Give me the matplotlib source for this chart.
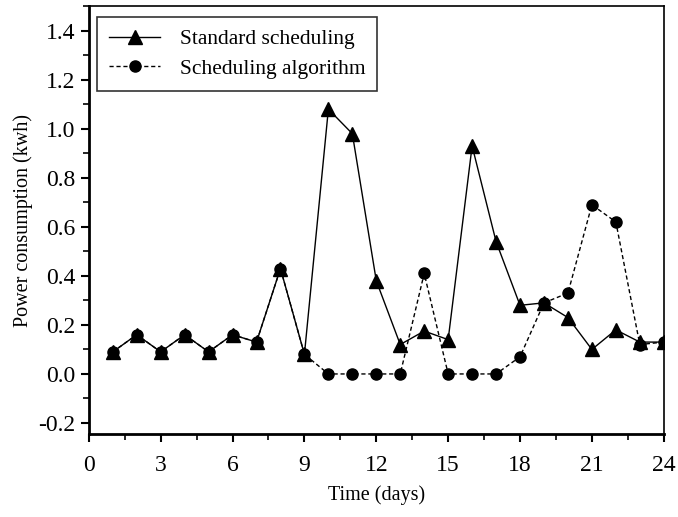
import matplotlib
matplotlib.use('Agg')
import matplotlib.pyplot as plt
from matplotlib.ticker import MultipleLocator

days = list(range(1, 25))
standard = [0.09, 0.16, 0.09, 0.16, 0.09, 0.16, 0.13, 0.43, 0.08, 1.08, 0.98, 0.38,
            0.12, 0.175, 0.14, 0.93, 0.54, 0.28, 0.29, 0.23, 0.10, 0.18, 0.13, 0.13]
algorithm = [0.09, 0.16, 0.09, 0.16, 0.09, 0.16, 0.13, 0.43, 0.08, 0.0, 0.0, 0.0,
             0.0, 0.41, 0.0, 0.0, 0.0, 0.07, 0.29, 0.33, 0.69, 0.62, 0.12, 0.13]

plt.rcParams['font.family'] = ['Liberation Serif', 'DejaVu Serif']

fig = plt.figure(figsize=(6.78, 5.17), dpi=100)
ax = fig.add_axes([0.131, 0.1605, 0.848, 0.8275])

ax.plot(days, algorithm, linestyle=(0, (3, 2)), color='black', linewidth=1,
        marker='o', markersize=8, label='Scheduling algorithm')
ax.plot(days, standard, linestyle='-', color='black', linewidth=1,
        marker='^', markersize=10, label='Standard scheduling')

ax.set_xlim(0, 24)
ax.set_ylim(-0.245, 1.5)
ax.xaxis.set_major_locator(MultipleLocator(3))
ax.xaxis.set_minor_locator(MultipleLocator(1.5))
ax.yaxis.set_minor_locator(MultipleLocator(0.1))
ax.set_yticks([-0.2, 0.0, 0.2, 0.4, 0.6, 0.8, 1.0, 1.2, 1.4])
ax.set_yticklabels(['-0.2', '0.0', '0.2', '0.4', '0.6', '0.8', '1.0', '1.2', '1.4'])

ax.tick_params(which='major', direction='out', length=6, width=1.5, labelsize=17)
ax.tick_params(which='minor', direction='out', length=4, width=1.2)
ax.tick_params(axis='x', which='major', pad=9)
ax.tick_params(top=False, right=False, which='both')
for s in ['left', 'bottom']:
    ax.spines[s].set_linewidth(2)
for s in ['top', 'right']:
    ax.spines[s].set_linewidth(1.2)

ax.set_xlabel('Time (days)', fontsize=14.5, labelpad=7)
ax.set_ylabel('Power consumption (kwh)', fontsize=14.5, labelpad=4)

handles, labels = ax.get_legend_handles_labels()
leg = ax.legend(handles[::-1], labels[::-1], loc='upper left', fontsize=15.5,
                frameon=True, fancybox=False, edgecolor='black',
                bbox_to_anchor=(0.014, 0.974), borderaxespad=0, handlelength=2.4,
                handletextpad=0.9, borderpad=0.55, labelspacing=0.45)
leg.get_frame().set_linewidth(1.2)

fig.savefig('out.png', dpi=100)
